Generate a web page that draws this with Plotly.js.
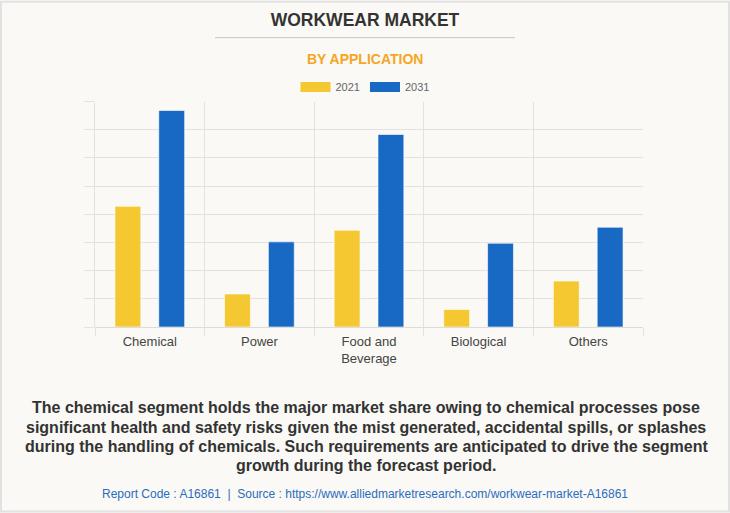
<!DOCTYPE html>
<html>
<head>
<meta charset="utf-8">
<script src="https://cdn.plot.ly/plotly-3.0.1.min.js"></script>
<style>
html,body{margin:0;padding:0;background:#faf9f5;}
#chart{width:730px;height:513px;}
</style>
</head>
<body>
<div id="chart"></div>
<script>
const categories = ["Chemical", "Power", "Food and<br>Beverage", "Biological", "Others"];
const values2021 = [4.28, 1.17, 3.43, 0.62, 1.63];
const values2031 = [7.68, 3.02, 6.83, 2.97, 3.54];
const seriesNames = ["2021", "2031"];
const colors = ["#F5C831", "#1769C4"];

const titleText = "WORKWEAR MARKET";
const subtitleText = "BY APPLICATION";
const noteLines = [
  "The chemical segment holds the major market share owing to chemical processes pose",
  "significant health and safety risks given the mist generated, accidental spills, or splashes",
  "during the handling of chemicals. Such requirements are anticipated to drive the segment",
  "growth during the forecast period."
];
const footerText = "Report Code : A16861  |  Source : https://www.alliedmarketresearch.com/workwear-market-A16861";

const W = 730, H = 513;
const L = 95, R = 643, T = 101, B = 327;
const px = x => (x - L) / (R - L);
const py = y => (B - y) / (B - T);

const traces = [
  {type: "bar", x: categories, y: values2021, name: seriesNames[0], showlegend: false, legendgroup: "a",
   marker: {color: colors[0], line: {color: "rgba(255,255,255,0.6)", width: 1}}, hoverinfo: "none"},
  {type: "bar", x: categories, y: values2031, name: seriesNames[1], showlegend: false, legendgroup: "b",
   marker: {color: colors[1], line: {color: "rgba(255,255,255,0.6)", width: 1}}, hoverinfo: "none"},
  {type: "scatter", mode: "lines", x: [null], y: [null], name: seriesNames[0], legendgroup: "a",
   line: {color: colors[0], width: 11}},
  {type: "scatter", mode: "lines", x: [null], y: [null], name: seriesNames[1], legendgroup: "b",
   line: {color: colors[1], width: 11}}
];

const noteAnnotations = noteLines.map((line, i) => ({
  text: "<b>" + line + "</b>", xref: "paper", yref: "paper", x: px(366), y: py(408 + i * 19.3),
  xanchor: "center", yanchor: "middle", showarrow: false, font: {size: 16, color: "#333"}
}));

const layout = {
  width: W, height: H,
  paper_bgcolor: "#faf9f5", plot_bgcolor: "#faf9f5",
  margin: {l: L, r: W - R, t: T, b: H - B, pad: 0},
  font: {family: "Liberation Sans, Arial, sans-serif", color: "#444"},
  title: {text: "<b>" + titleText + "</b>", x: 0.5, xref: "container", xanchor: "center",
          y: 1 - 20 / H, yref: "container", yanchor: "middle",
          font: {size: 17.5, color: "#333", family: "Liberation Sans, Arial, sans-serif"}},
  barmode: "group", bargap: 0.2, bargroupgap: 0.41,
  showlegend: true,
  legend: {orientation: "h", x: 0.5, xref: "container", xanchor: "center",
           y: 1 - 87 / H, yref: "container", yanchor: "middle",
           font: {size: 11, color: "#666"}, bgcolor: "rgba(0,0,0,0)", itemwidth: 30, tracegroupgap: 0},
  xaxis: {type: "category", tickson: "boundaries", ticks: "outside", ticklen: 8, tickcolor: "#e2e2e0",
          showgrid: true, gridcolor: "#e2e2e0", gridwidth: 1, showline: false, zeroline: false,
          ticklabelstandoff: 5,
          tickfont: {size: 13, color: "#444"}, fixedrange: true},
  yaxis: {range: [0, 8], dtick: 1, showticklabels: false, ticks: "outside", ticklen: 10, tickcolor: "#e2e2e0",
          showgrid: true, gridcolor: "#e2e2e0", gridwidth: 1, showline: true, linecolor: "#e2e2e0", linewidth: 1,
          zeroline: true, zerolinecolor: "#dcdcda", zerolinewidth: 1, fixedrange: true},
  shapes: [
    {type: "line", xref: "paper", yref: "paper", x0: px(215), x1: px(515), y0: py(37), y1: py(37),
     line: {color: "#c8c8c8", width: 1}},
    {type: "rect", xref: "paper", yref: "paper", x0: px(1), x1: px(729), y0: py(1), y1: py(512),
     line: {color: "#e2e2e2", width: 2}, fillcolor: "rgba(0,0,0,0)"}
  ],
  annotations: [
    {text: "<b>" + subtitleText + "</b>", xref: "paper", yref: "paper", x: px(365), y: py(58),
     xanchor: "center", yanchor: "middle", showarrow: false, font: {size: 14, color: "#F5A623"}},
    ...noteAnnotations,
    {text: footerText, xref: "paper", yref: "paper", x: px(365), y: py(494),
     xanchor: "center", yanchor: "middle", showarrow: false, font: {size: 12, color: "#2A6CBF"}}
  ]
};

Plotly.newPlot("chart", traces, layout, {displayModeBar: false, staticPlot: true});
</script>
</body>
</html>
